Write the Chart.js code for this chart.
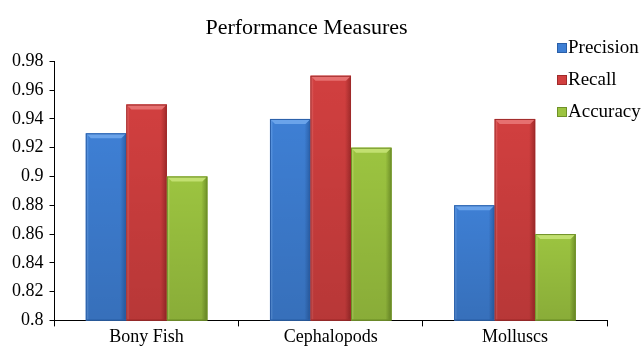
<!DOCTYPE html>
<html>
<head>
<meta charset="utf-8">
<script src="https://cdn.jsdelivr.net/npm/chart.js@4/dist/chart.umd.min.js"></script>
<style>
  html, body { margin: 0; padding: 0; background: #fff; }
  #wrap { width: 643px; height: 348px; position: relative; }
</style>
</head>
<body>
<div id="wrap"><canvas id="perfChart"></canvas></div>
<script>
var categories = ['Bony Fish', 'Cephalopods', 'Molluscs'];
var precision = [0.93, 0.94, 0.88];
var recall = [0.95, 0.97, 0.94];
var accuracy = [0.90, 0.92, 0.86];
var yTickLabels = ['0.8', '0.82', '0.84', '0.86', '0.88', '0.9', '0.92', '0.94', '0.96', '0.98'];

// base, light, dark shades per series
var shades = [
  { base: '#3e7fd4', light: '#6aa3ea', dark: '#2a5fa8' },
  { base: '#d13f3f', light: '#e67070', dark: '#a02a2a' },
  { base: '#9cc440', light: '#c2e070', dark: '#6f9128' }
];

var fontFamily = '"Liberation Serif", "Times New Roman", serif';

var bevelBars = {
  id: 'bevelBars',
  afterDatasetsDraw: function (chart) {
    var ctx = chart.ctx;
    var area = chart.chartArea;
    chart.data.datasets.forEach(function (ds, di) {
      var meta = chart.getDatasetMeta(di);
      var s = shades[di];
      meta.data.forEach(function (bar) {
        var left = bar.x - bar.width / 2, right = bar.x + bar.width / 2;
        var top = bar.y, bottom = Math.min(bar.base, area.bottom);
        ctx.save();
        var g = ctx.createLinearGradient(left, 0, right, 0);
        g.addColorStop(0, s.light);
        g.addColorStop(0.08, s.base);
        g.addColorStop(0.85, s.base);
        g.addColorStop(1, s.dark);
        ctx.fillStyle = g;
        ctx.fillRect(left, top, right - left, bottom - top);
        // slight darkening toward the base
        var v = ctx.createLinearGradient(0, top, 0, bottom);
        v.addColorStop(0, 'rgba(0,0,0,0)');
        v.addColorStop(1, 'rgba(0,0,0,0.12)');
        ctx.fillStyle = v;
        ctx.fillRect(left, top, right - left, bottom - top);
        // top bevel
        var bh = 5;
        ctx.fillStyle = s.light;
        ctx.beginPath();
        ctx.moveTo(left, top);
        ctx.lineTo(right, top);
        ctx.lineTo(right - bh, top + bh);
        ctx.lineTo(left + bh, top + bh);
        ctx.closePath();
        ctx.fill();
        ctx.strokeStyle = s.dark;
        ctx.lineWidth = 1;
        ctx.strokeRect(left + 0.5, top + 0.5, right - left - 1, bottom - top - 1);
        ctx.restore();
      });
    });
  }
};

var sideLegend = {
  id: 'sideLegend',
  afterDraw: function (chart) {
    var ctx = chart.ctx;
    ctx.save();
    ctx.font = '19px ' + fontFamily;
    ctx.textBaseline = 'middle';
    chart.data.datasets.forEach(function (ds, di) {
      var y = 47 + di * 32;
      var s = shades[di];
      ctx.fillStyle = s.base;
      ctx.fillRect(557, y - 4, 10, 10);
      ctx.strokeStyle = s.dark;
      ctx.strokeRect(557.5, y - 3.5, 9, 9);
      ctx.fillStyle = '#000';
      ctx.fillText(ds.label, 568, y + 1);
    });
    ctx.restore();
  }
};

new Chart(document.getElementById('perfChart'), {
  type: 'bar',
  data: {
    labels: categories,
    datasets: [
      { label: 'Precision', data: precision, backgroundColor: shades[0].base },
      { label: 'Recall', data: recall, backgroundColor: shades[1].base },
      { label: 'Accuracy', data: accuracy, backgroundColor: shades[2].base }
    ]
  },
  options: {
    animation: false,
    responsive: true,
    maintainAspectRatio: false,
    layout: { padding: { left: 6, right: 36, top: 0, bottom: 0 } },
    datasets: { bar: { categoryPercentage: 0.66, barPercentage: 1.0 } },
    plugins: {
      legend: { display: false },
      tooltip: { enabled: false },
      title: {
        display: true,
        text: 'Performance Measures',
        color: '#000',
        font: { family: fontFamily, size: 22, weight: 'normal' },
        padding: { top: 15, bottom: 20 }
      }
    },
    scales: {
      x: {
        grid: { display: true, drawOnChartArea: false, drawTicks: true, tickLength: 6, color: '#000' },
        border: { display: true, color: '#000', width: 1 },
        ticks: { color: '#000', font: { family: fontFamily, size: 18 }, padding: 0 }
      },
      y: {
        min: 0.8,
        max: 0.98,
        grid: { display: true, drawOnChartArea: false, drawTicks: true, tickLength: 5, color: '#000' },
        border: { display: true, color: '#000', width: 1 },
        ticks: {
          stepSize: 0.02,
          color: '#000',
          font: { family: fontFamily, size: 18 },
          padding: 6,
          callback: function (v, i) { return yTickLabels[i]; }
        }
      }
    }
  },
  plugins: [bevelBars, sideLegend]
});
</script>
</body>
</html>
